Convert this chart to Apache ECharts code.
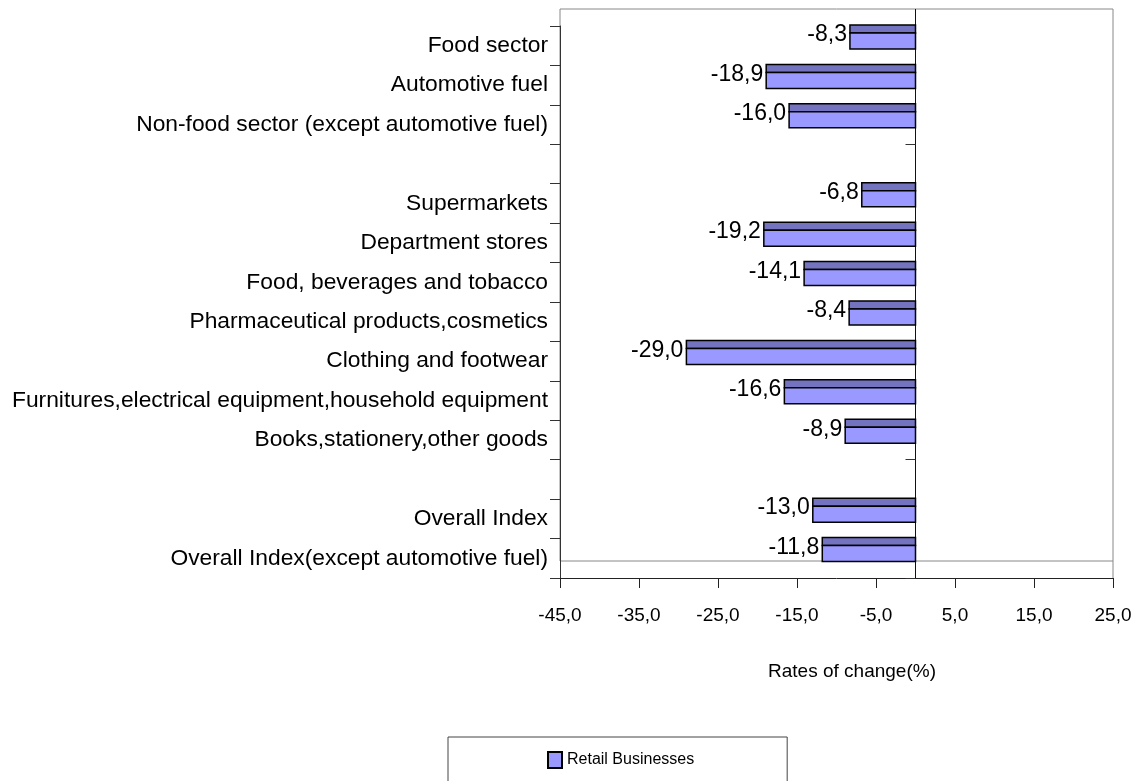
<!DOCTYPE html>
<html><head><meta charset="utf-8">
<script src="https://cdn.jsdelivr.net/npm/echarts@6/dist/echarts.min.js"></script>
<style>html,body{margin:0;padding:0;background:#fff}#c{width:1141px;height:781px}</style>
</head><body><div id="c"></div>
<script>
const categories = [
  'Food sector',
  'Automotive fuel',
  'Non-food sector (except automotive fuel)',
  '',
  'Supermarkets',
  'Department stores',
  'Food, beverages and tobacco',
  'Pharmaceutical products,cosmetics',
  'Clothing and footwear',
  'Furnitures,electrical equipment,household equipment',
  'Books,stationery,other goods',
  '',
  'Overall Index',
  'Overall Index(except automotive fuel)'
];
const retailValues = [-8.3, -18.9, -16.0, null, -6.8, -19.2, -14.1, -8.4, -29.0, -16.6, -8.9, null, -13.0, -11.8];
const xMin = -45, xMax = 25, xStep = 10;
const seriesName = 'Retail Businesses';
const axisTitle = 'Rates of change(%)';

const FONT = "'Liberation Sans',Arial,sans-serif";
const fmt = v => v.toFixed(1).replace('.', ',');

const G = {left: 560, right: 28, top: 26, bottom: 203};
const DEPTH = 17;

const chart = echarts.init(document.getElementById('c'), null, {renderer: 'canvas'});

const option = {
  animation: false,
  backgroundColor: '#fff',
  grid: {left: G.left, right: G.right, top: G.top, bottom: G.bottom, containLabel: false, outerBoundsMode: 'none'},
  xAxis: {
    type: 'value', min: xMin, max: xMax, interval: xStep,
    axisLine: {show: true, onZero: false, lineStyle: {color: '#222', width: 1}},
    axisTick: {show: true, length: 10, lineStyle: {color: '#222'}},
    splitLine: {show: false},
    axisLabel: {formatter: v => fmt(v), color: '#000', fontFamily: FONT, fontSize: 19, lineHeight: 19, margin: 28},
    name: axisTitle, nameLocation: 'middle', nameGap: 84,
    nameTextStyle: {color: '#000', fontFamily: FONT, fontSize: 19, lineHeight: 19, padding: [0, 0, 0, 31]}
  },
  yAxis: [{
    type: 'category', data: categories, inverse: true, position: 'left',
    axisLine: {show: true, onZero: false, lineStyle: {color: '#333', width: 1}},
    axisTick: {show: true, length: 10, interval: 0, lineStyle: {color: '#333'}},
    axisLabel: {interval: 0, color: '#000', fontFamily: FONT, fontSize: 22.8, margin: 12, padding: [2, 0, 0, 0]}
  }, {
    type: 'category', data: categories, inverse: true, position: 'left',
    axisLine: {show: true, onZero: true, lineStyle: {color: '#111', width: 1}},
    axisTick: {show: true, length: 10, interval: 0, lineStyle: {color: '#333'}},
    axisLabel: {show: false}
  }],
  legend: {
    data: [seriesName], left: 448, top: 737,
    padding: [13, 93, 40, 99],
    borderColor: '#444', borderWidth: 1, borderRadius: 0,
    itemWidth: 14, itemHeight: 16, icon: 'rect',
    textStyle: {color: '#000', fontFamily: FONT, fontSize: 16, lineHeight: 20}
  },
  series: [{
    type: 'custom', name: seriesName, z: 5,
    itemStyle: {color: '#9999ff', borderColor: '#000', borderWidth: 1},
    encode: {x: 0, y: 1},
    data: retailValues.map((v, i) => [v, i]),
    renderItem: function (params, api) {
      const v = api.value(0);
      if (v == null || isNaN(v)) return;
      const c = api.value(1);
      const p0 = api.coord([0, c]);
      const p1 = api.coord([v, c]);
      const band = api.size([0, 1])[1];
      const top = p0[1] - band / 2;
      const xl = Math.min(p0[0], p1[0]);
      const w = Math.abs(p0[0] - p1[0]);
      return {
        type: 'group',
        children: [
          {type: 'rect', shape: {x: xl, y: top - 1, width: w, height: 8},
            style: {fill: '#7373bf', stroke: '#000', lineWidth: 1.5}},
          {type: 'rect', shape: {x: xl, y: top + 7, width: w, height: 16},
            style: {fill: '#9999ff', stroke: '#000', lineWidth: 1.5}},
          {type: 'text', style: {text: fmt(v), x: xl - 3, y: top + 9, align: 'right', verticalAlign: 'middle',
            fill: '#000', fontFamily: FONT, fontSize: 23}}
        ]
      };
    }
  }]
};
chart.setOption(option);

// frame decoration of the 3D-style plot box
const x0 = G.left, x1 = 1141 - G.right, yTopAxis = G.top, yBot = 781 - G.bottom;
const zeroX = chart.convertToPixel({xAxisIndex: 0}, 0);
chart.setOption({
  graphic: [
    {type: 'rect', z: 0, silent: true, shape: {x: x0, y: yTopAxis - DEPTH, width: x1 - x0, height: yBot - yTopAxis},
      style: {fill: 'none', stroke: '#888', lineWidth: 1}},
    {type: 'line', z: 0, silent: true, shape: {x1: x1, y1: yBot - DEPTH, x2: x1, y2: yBot}, style: {stroke: '#888', lineWidth: 1}},
    {type: 'line', z: 0, silent: true, shape: {x1: zeroX, y1: yTopAxis - DEPTH, x2: zeroX, y2: yTopAxis}, style: {stroke: '#111', lineWidth: 1}}
  ]
});
</script></body></html>
